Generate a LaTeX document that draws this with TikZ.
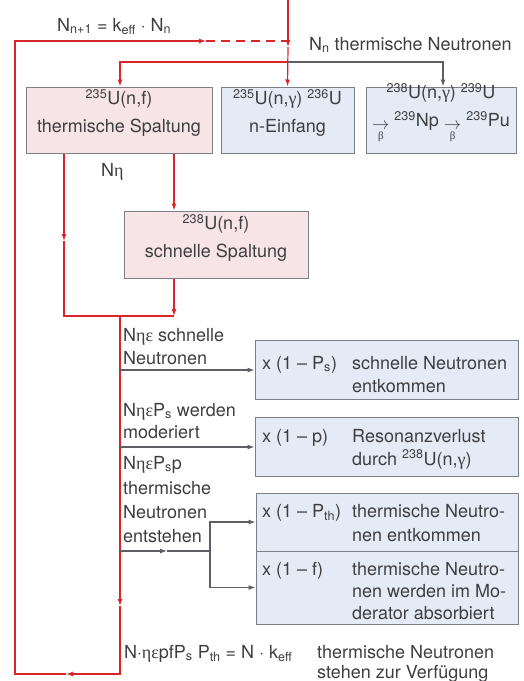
\documentclass[tikz,border=0pt]{standalone}
\usepackage{fontspec}
\setmainfont{TeX Gyre Heros}
\newfontfamily\grk{Liberation Serif}
\usetikzlibrary{arrows.meta}
\definecolor{lred}{HTML}{D8262C}
\definecolor{lgrey}{HTML}{5E5E64}
\definecolor{pinkf}{HTML}{F7E4E7}
\definecolor{bluef}{HTML}{E5EBF6}
\definecolor{bord}{HTML}{7E7E86}
\definecolor{txt}{HTML}{3E3E42}
\newcommand{\gr}[1]{{\grk #1}}
\newcommand{\barrow}{\raisebox{-0.3ex}{$\mathop{\rightarrow}\limits_{\mbox{\fontsize{11}{11}\selectfont\grk β}}$}}
\tikzset{
  x=1pt, y=-1pt,
  every node/.style={font=\fontsize{18}{23}\selectfont, text=txt, inner sep=0pt},
  pinkbox/.style={draw=bord, fill=pinkf, line width=1pt, rectangle},
  bluebox/.style={draw=bord, fill=bluef, line width=1pt, rectangle},
  redline/.style={draw=lred, line width=1.2pt},
  greyline/.style={draw=lgrey, line width=1.1pt},
  tip/.style={-{Latex[length=7pt,width=5pt]}},
  ln/.style={anchor=base west},
}
\begin{document}
\begin{tikzpicture}
\useasboundingbox (0,0) rectangle (524,681);
% boxes
\node[pinkbox, minimum width=186pt, minimum height=66pt] (b1) at (119,120) {};
\node[bluebox, minimum width=133pt, minimum height=66pt] (b2) at (287.5,120) {};
\node[bluebox, minimum width=150pt, minimum height=66pt] (b3) at (441,120) {};
\node[pinkbox, minimum width=184pt, minimum height=67pt] (b4) at (216,244.5) {};
\node[bluebox, minimum width=263pt, minimum height=59pt] (b5) at (386.5,370) {};
\node[bluebox, minimum width=263pt, minimum height=59pt] (b6) at (386.5,447) {};
\node[bluebox, minimum width=262pt, minimum height=58pt] (b7) at (387,522) {};
\node[bluebox, minimum width=262pt, minimum height=73pt] (b8) at (387,587.5) {};
% box texts
\node[align=center, font=\fontsize{18}{28}\selectfont] (t1) at (119,113) {\textsuperscript{235}U(n,f)\\thermische Spaltung};
\node[align=center, font=\fontsize{18}{28}\selectfont] (t2) at (287.5,113) {\textsuperscript{235}U(n,\gr{γ}) \textsuperscript{236}U\\n-Einfang};
\node[align=center, font=\fontsize{18}{28}\selectfont] (t3) at (441,113) {\textsuperscript{238}U(n,\gr{γ}) \textsuperscript{239}U\\\barrow\ \textsuperscript{239}Np \barrow\ \textsuperscript{239}Pu};
\node[align=center, font=\fontsize{18}{28}\selectfont] (t4) at (216,238) {\textsuperscript{238}U(n,f)\\schnelle Spaltung};
\node[ln] (c5a) at (262,369) {x (1 -- P\textsubscript{s})};
\node[ln] (c5b) at (352,369) {schnelle Neutronen};
\node[ln] (c5c) at (352,392) {entkommen};
\node[ln] (c6a) at (262,442) {x (1 -- p)};
\node[ln] (c6b) at (352,442) {Resonanzverlust};
\node[ln] (c6c) at (352,465) {durch \textsuperscript{238}U(n,\gr{γ})};
\node[ln] (c7a) at (262,517) {x (1 -- P\textsubscript{th})};
\node[ln] (c7b) at (352,517) {thermische Neutro-};
\node[ln] (c7c) at (352,541) {nen entkommen};
\node[ln] (c8a) at (262,575) {x (1 -- f)};
\node[ln] (c8b) at (352,575) {thermische Neutro-};
\node[ln] (c8c) at (352,597) {nen werden im Mo-};
\node[ln] (c8d) at (352,619) {derator absorbiert};
% free labels
\node[ln] (lk) at (57,31) {N\textsubscript{n+1} = k\textsubscript{eff} $\cdot$ N\textsubscript{n}};
\node[ln] (lnn) at (309,50) {N\textsubscript{n} thermische Neutronen};
\node[ln] (leta) at (101,176) {N\gr{η}};
\node[ln] (l1a) at (123,341) {N\gr{ηε} schnelle};
\node[ln] (l1b) at (123,364) {Neutronen};
\node[ln] (l2a) at (123,416) {N\gr{ηε}P\textsubscript{s} werden};
\node[ln] (l2b) at (123,438) {moderiert};
\node[ln] (l3a) at (123,469) {N\gr{ηε}P\textsubscript{s}p};
\node[ln] (l3b) at (123,494) {thermische};
\node[ln] (l3c) at (123,518) {Neutronen};
\node[ln] (l3d) at (123,542) {entstehen};
\node[ln] (lb1) at (124,658) {N$\cdot$\gr{ηε}pfP\textsubscript{s} P\textsubscript{th} = N $\cdot$ k\textsubscript{eff}};
\node[ln] (lb2) at (317,658) {thermische Neutronen};
\node[ln] (lb3) at (317,678) {stehen zur Verfügung};
% coordinates
\coordinate (top) at (288,0);
\coordinate (m0) at (288,47);
\coordinate (dj) at (288,41);
\coordinate (da) at (206,41);
\coordinate (br) at (288,62);
\coordinate (bl) at (120,62);
\coordinate (bg) at (443,62);
\coordinate (m1) at (64,241);
\coordinate (j1) at (64,316);
\coordinate (j2) at (174,316);
\coordinate (jm) at (120,316);
\coordinate (m2) at (120,606);
\coordinate (jb) at (120,674);
\coordinate (m3) at (66,674);
\coordinate (lb) at (15,674);
\coordinate (lt) at (15,41);
\coordinate (f1) at (120,551);
\coordinate (m4) at (167,551);
\coordinate (f2) at (210,551);
% top input
\draw[redline, tip] (top) -- (m0);
\draw[redline, tip] (m0) -- (b2.north);
\draw[redline, dash pattern=on 9pt off 6pt] (da) -- (dj);
% branch
\draw[redline, tip] (br) -- (bl) -- (b1.north -| bl);
\draw[greyline, tip] (br) -- (bg) -- (b3.north -| bg);
% from box 1
\draw[redline, tip] (b1.south -| j1) -- (m1);
\draw[redline] (m1) -- (j1) -- (j2);
\draw[redline, tip] (b1.south -| j2) -- (b4.north -| j2);
\draw[redline, tip] (b4.south -| j2) -- (j2);
% main loop
\draw[redline, tip] (jm) -- (m2);
\draw[redline, tip] (m2) -- (jb) -- (m3);
\draw[redline, tip] (m3) -- (lb) -- (lt) -- (da);
% grey arrows to loss boxes
\draw[greyline, tip] (b5.west -| jm) -- (b5.west);
\draw[greyline, tip] (b6.west -| jm) -- (b6.west);
\draw[greyline, tip] (f1) -- (m4);
\draw[greyline] (m4) -- (f2);
\draw[greyline, tip] (f2) |- (b7.west);
\draw[greyline, tip] (f2) |- (b8.west);
\end{tikzpicture}
\end{document}
